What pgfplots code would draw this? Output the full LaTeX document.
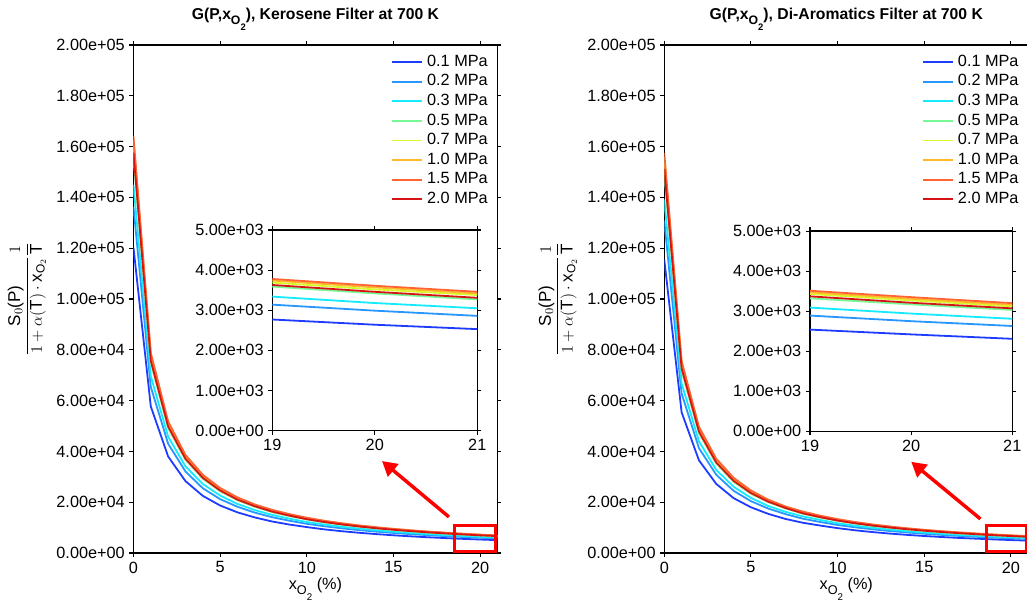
\documentclass[border=0pt]{standalone}
\usepackage{fontspec}
\setmainfont{Liberation Sans}
\usepackage{amsmath}
\usepackage{graphicx}
\usepackage{pgfplots}
\usepackage{pgfplotstable}
\pgfplotsset{compat=1.18}
\usetikzlibrary{arrows.meta}

\definecolor{c1}{RGB}{30,60,255}
\definecolor{c2}{RGB}{40,150,255}
\definecolor{c3}{RGB}{20,235,255}
\definecolor{c4}{RGB}{120,250,150}
\definecolor{c5}{RGB}{215,250,40}
\definecolor{c6}{RGB}{255,185,40}
\definecolor{c7}{RGB}{255,100,50}
\definecolor{c8}{RGB}{215,20,20}

% values in thousands
\pgfplotstableread{
x p01 p02 p03 p05 p07 p10 p15 p20
0 120.3 136.3 145.0 155.9 160.2 162.4 164.1 157.6
1 57.7 65.4 69.6 74.8 76.9 77.9 78.8 75.7
2 38.0 43.0 45.8 49.2 50.6 51.3 51.8 49.8
3 28.3 32.1 34.1 36.7 37.7 38.2 38.6 37.1
4 22.5 25.5 27.2 29.2 30.0 30.4 30.8 29.6
5 18.7 21.2 22.6 24.3 25.0 25.3 25.6 24.6
6 16.0 18.2 19.3 20.8 21.4 21.6 21.9 21.0
7 14.0 15.9 16.9 18.2 18.7 18.9 19.1 18.4
8 12.4 14.1 15.0 16.1 16.6 16.8 17.0 16.3
9 11.2 12.7 13.5 14.5 14.9 15.1 15.3 14.7
10 10.2 11.5 12.2 13.2 13.5 13.7 13.9 13.3
11 9.31 10.55 11.22 12.07 12.40 12.57 12.71 12.20
12 8.59 9.73 10.35 11.14 11.44 11.60 11.72 11.26
13 7.97 9.03 9.61 10.33 10.62 10.77 10.88 10.45
14 7.44 8.43 8.97 9.64 9.91 10.04 10.15 9.75
15 6.97 7.90 8.40 9.04 9.29 9.41 9.51 9.14
16 6.56 7.43 7.91 8.50 8.74 8.86 8.95 8.60
17 6.19 7.02 7.47 8.03 8.25 8.36 8.45 8.12
18 5.87 6.65 7.07 7.61 7.82 7.92 8.01 7.69
19 5.57 6.32 6.72 7.22 7.42 7.53 7.61 7.30
20 5.31 6.01 6.40 6.88 7.07 7.17 7.24 6.95
21 5.06 5.74 6.10 6.56 6.75 6.84 6.91 6.64
}\Lmain

\pgfplotstableread{
x p01 p02 p03 p05 p07 p10 p15 p20
19 2.77 3.14 3.34 3.59 3.69 3.74 3.78 3.63
20 2.64 2.99 3.18 3.42 3.52 3.57 3.61 3.46
21 2.53 2.86 3.05 3.27 3.38 3.42 3.46 3.31
}\Linset

\pgfplotstableread{
x p01 p02 p03 p05 p07 p10 p15 p20
0 115.5 130.8 139.2 149.7 153.8 155.9 157.5 151.3
1 55.4 62.8 66.8 71.8 73.8 74.8 75.6 72.7
2 36.5 41.3 44.0 47.2 48.6 49.2 49.7 47.8
3 27.2 30.8 32.7 35.2 36.2 36.7 37.1 35.6
4 21.6 24.5 26.1 28.0 28.8 29.2 29.6 28.4
5 18.0 20.4 21.7 23.3 24.0 24.3 24.6 23.6
6 15.4 17.5 18.5 20.0 20.5 20.7 21.0 20.2
7 13.4 15.3 16.2 17.5 18.0 18.1 18.3 17.7
8 11.9 13.5 14.4 15.5 15.9 16.1 16.3 15.6
9 10.8 12.2 13.0 13.9 14.3 14.5 14.7 14.1
10 9.79 11.04 11.71 12.67 12.96 13.15 13.34 12.77
11 8.94 10.13 10.77 11.59 11.90 12.07 12.20 11.71
12 8.25 9.34 9.94 10.69 10.98 11.14 11.25 10.81
13 7.65 8.67 9.23 9.92 10.20 10.34 10.44 10.03
14 7.14 8.09 8.61 9.25 9.51 9.64 9.74 9.36
15 6.69 7.58 8.06 8.68 8.92 9.03 9.13 8.77
16 6.30 7.13 7.59 8.16 8.39 8.51 8.59 8.26
17 5.94 6.74 7.17 7.71 7.92 8.03 8.11 7.80
18 5.64 6.38 6.79 7.31 7.51 7.60 7.69 7.38
19 5.35 6.07 6.45 6.93 7.12 7.23 7.31 7.01
20 5.10 5.77 6.14 6.60 6.79 6.88 6.95 6.67
21 4.86 5.51 5.86 6.30 6.48 6.57 6.63 6.37
}\Rmain

\pgfplotstableread{
x p01 p02 p03 p05 p07 p10 p15 p20
19 2.54 2.89 3.09 3.32 3.43 3.47 3.51 3.37
20 2.42 2.75 2.94 3.17 3.27 3.31 3.35 3.21
21 2.31 2.63 2.81 3.03 3.12 3.16 3.20 3.07
}\Rinset

\newcommand{\fs}{\fontsize{12.2}{14}\selectfont}
\newcommand{\ft}{\fontsize{11.8}{14}\selectfont}
\newcommand{\xo}{x\raisebox{-0.6ex}{\scalebox{0.78}{O}\raisebox{-0.7ex}{\scalebox{0.6}{2}}}}

\pgfplotsset{
  base/.style={
    scale only axis, anchor=south west,
    axis line style={line width=0.9pt, black},
    tick style={line width=0.8pt, black},
    tick align=outside, major tick length=3pt,
    /pgf/number format/assume math mode=true,
    tick label style={font=\fs},
    label style={font=\fs},
    every axis plot/.append style={line width=1.35pt},
  },
  mainax/.style={
    base, width=273pt, height=381pt,
    xmin=0, xmax=21, ymin=0, ymax=200,
    xtick={0,5,10,15,20},
    ytick={0,20,40,60,80,100,120,140,160,180,200},
    yticklabels={0.00e+00,2.00e+04,4.00e+04,6.00e+04,8.00e+04,1.00e+05,1.20e+05,1.40e+05,1.60e+05,1.80e+05,2.00e+05},
    title style={at={(0.5,1)}, anchor=base, yshift=12.8pt, font=\ft\bfseries},
    xlabel={\xo\ (\%)},
    xlabel style={at={(0.5,0)}, anchor=base, yshift=-27.5pt},
    ylabel={\fontsize{12.8}{14}\selectfont$\dfrac{\text{S}_0\text{(P)}}{1+\alpha(\text{T})\cdot\text{x}_{\text{O}_2}}\dfrac{1}{\text{T}}$},
    ylabel style={at={(axis description cs:-0.293,0.5)}, anchor=center},
    legend style={at={(axis description cs:0.985,0.986)}, anchor=north east,
      draw=none, fill=none, inner sep=0pt, font=\fs,
      nodes={text height=8.6pt, text depth=2.5pt, inner ysep=1.8pt, inner xsep=3pt}},
    legend cell align=left,
    legend image code/.code={\draw[#1, line width=1.35pt] (0pt,0pt) -- (22.5pt,0pt);},
  },
  insetax/.style={
    base, xmin=19, xmax=21, ymin=0, ymax=5,
    xtick={19,20,21}, ytick={0,1,2,3,4,5},
    yticklabels={0.00e+00,1.00e+03,2.00e+03,3.00e+03,4.00e+03,5.00e+03},
    axis background/.style={fill=white},
  },
}

\newcommand{\curves}[1]{%
  \addplot[c1] table[x=x,y=p01]{#1};
  \addplot[c2] table[x=x,y=p02]{#1};
  \addplot[c3] table[x=x,y=p03]{#1};
  \addplot[c4] table[x=x,y=p05]{#1};
  \addplot[c5] table[x=x,y=p07]{#1};
  \addplot[c6] table[x=x,y=p10]{#1};
  \addplot[c7] table[x=x,y=p15]{#1};
  \addplot[c8] table[x=x,y=p20]{#1};
}

\begin{document}
\begin{tikzpicture}
% ---------- left panel ----------
\begin{axis}[mainax, at={(100.1pt,45.75pt)},
  title={G(P,\xo), Kerosene Filter at 700 K}]
  \curves{\Lmain}
  \legend{0.1 MPa,0.2 MPa,0.3 MPa,0.5 MPa,0.7 MPa,1.0 MPa,1.5 MPa,2.0 MPa}
  \draw[red, line width=2.3pt] (axis cs:18.5,0.5) rectangle (axis cs:20.9,11.0);
  \draw[red, line width=2.6pt, -{Triangle[length=11pt,width=12pt]}] (axis cs:18.2,14.2) -- (axis cs:14.34,36.2);
\end{axis}
\begin{axis}[insetax, at={(204.2pt,137.5pt)}, width=153.75pt, height=150.5pt]
  \curves{\Linset}
\end{axis}
% ---------- right panel ----------
\begin{axis}[mainax, at={(498.2pt,45.75pt)},
  title={G(P,\xo), Di-Aromatics Filter at 700 K}]
  \curves{\Rmain}
  \legend{0.1 MPa,0.2 MPa,0.3 MPa,0.5 MPa,0.7 MPa,1.0 MPa,1.5 MPa,2.0 MPa}
  \draw[red, line width=2.3pt] (axis cs:18.6,0.5) rectangle (axis cs:20.9,11.0);
  \draw[red, line width=2.6pt, -{Triangle[length=11pt,width=12pt]}] (axis cs:18.24,13.4) -- (axis cs:14.25,35.9);
\end{axis}
\begin{axis}[insetax, at={(607.5pt,137.0pt)}, width=151.7pt, height=150.2pt]
  \curves{\Rinset}
\end{axis}
\pgfresetboundingbox
\path[use as bounding box] (0pt,0pt) rectangle (770.25pt,460.5pt);
\end{tikzpicture}
\end{document}
